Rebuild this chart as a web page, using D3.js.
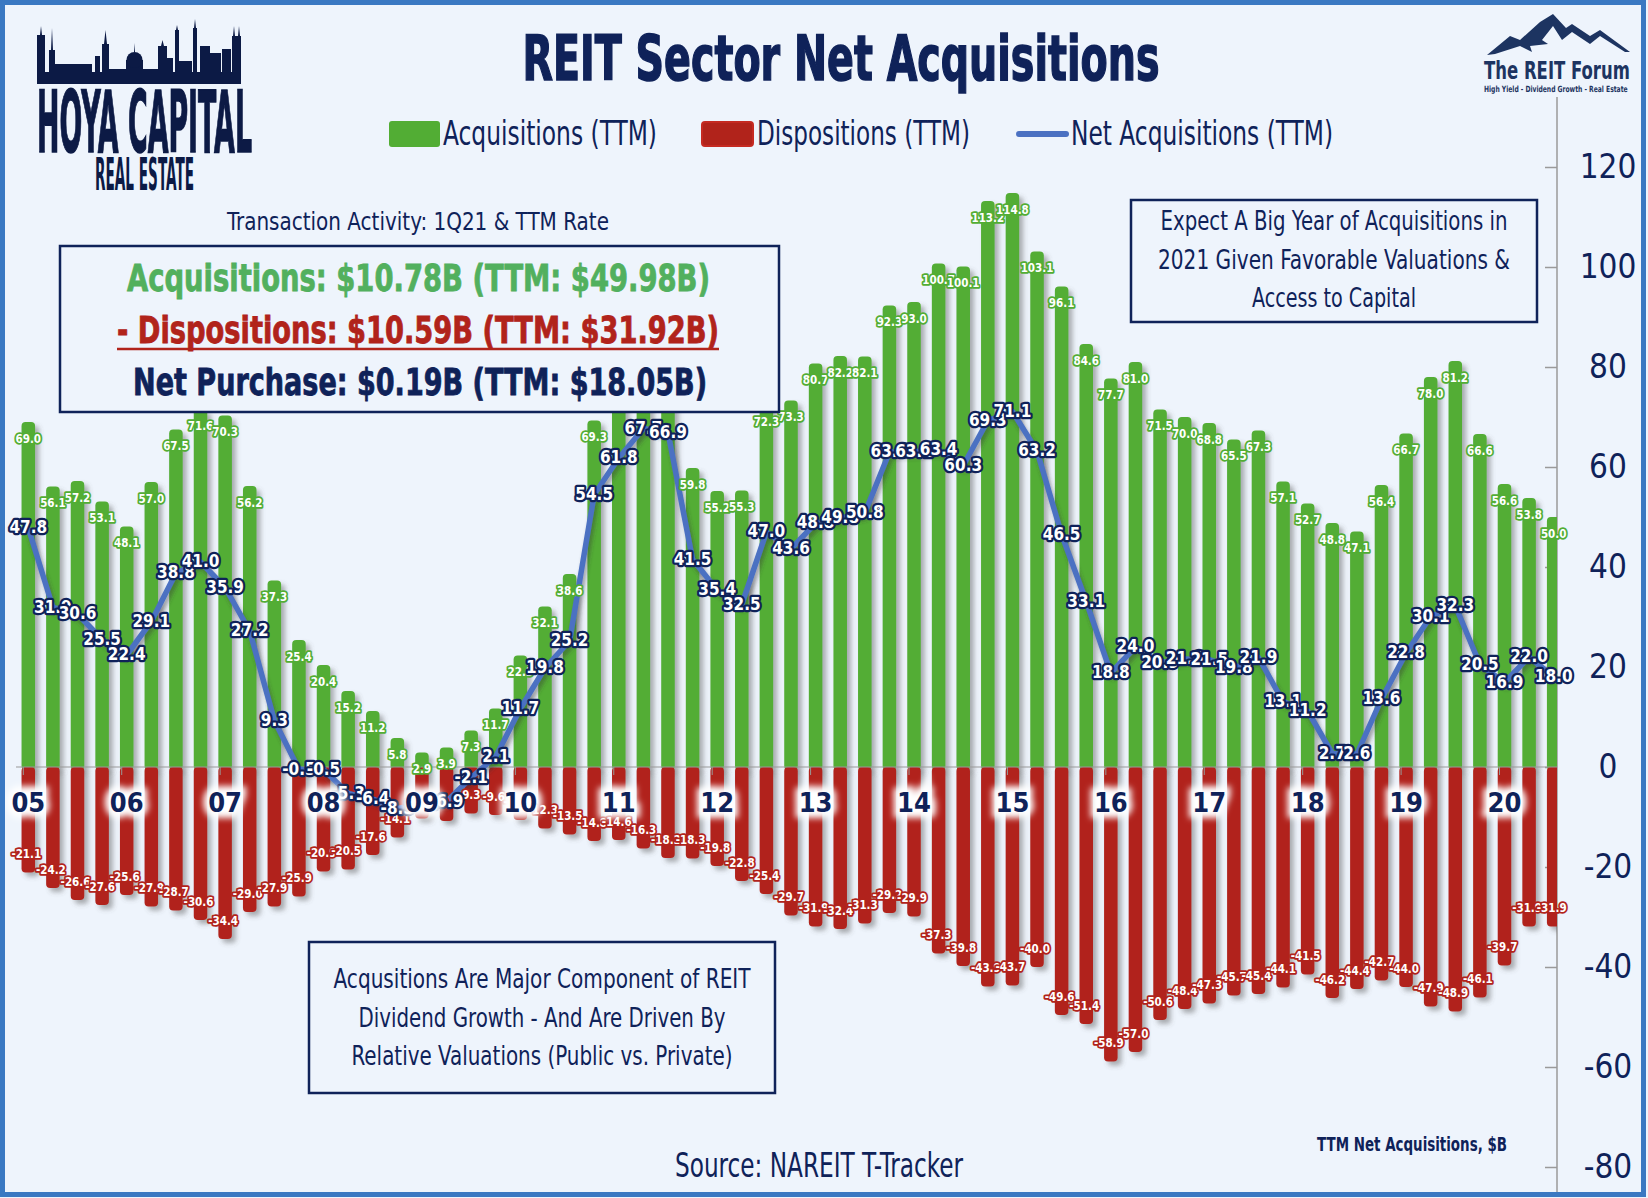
<!DOCTYPE html>
<html>
<head>
<meta charset="utf-8">
<script src="https://cdn.jsdelivr.net/npm/d3@7"></script>
<style>
  html, body { margin: 0; padding: 0; background: #eef4fc; }
  svg { display: block; }
  text { font-family: "Liberation Sans Narrow", "DejaVu Sans Condensed", "Roboto Condensed", Roboto, sans-serif; }
</style>
</head>
<body>
<svg id="chart" width="1648" height="1198"></svg>
<script>
// quarters 3Q05 .. 1Q21 (TTM values, $B)
const periods = [
  "3Q05","4Q05","1Q06","2Q06","3Q06","4Q06","1Q07","2Q07","3Q07","4Q07",
  "1Q08","2Q08","3Q08","4Q08","1Q09","2Q09","3Q09","4Q09","1Q10","2Q10",
  "3Q10","4Q10","1Q11","2Q11","3Q11","4Q11","1Q12","2Q12","3Q12","4Q12",
  "1Q13","2Q13","3Q13","4Q13","1Q14","2Q14","3Q14","4Q14","1Q15","2Q15",
  "3Q15","4Q15","1Q16","2Q16","3Q16","4Q16","1Q17","2Q17","3Q17","4Q17",
  "1Q18","2Q18","3Q18","4Q18","1Q19","2Q19","3Q19","4Q19","1Q20","2Q20",
  "3Q20","4Q20","1Q21"
];
const acquisitions = [
  69.0, 56.1, 57.2, 53.1, 48.1, 57.0, 67.5, 71.6, 70.3, 56.2,
  37.3, 25.4, 20.4, 15.2, 11.2, 5.8, 2.9, 3.9, 7.3, 11.7,
  22.3, 32.1, 38.6, 69.3, 76.4, 84.0, 85.1, 59.8, 55.2, 55.3,
  72.3, 73.3, 80.7, 82.2, 82.1, 92.3, 93.0, 100.7, 100.1, 113.2,
  114.8, 103.1, 96.1, 84.6, 77.7, 81.0, 71.5, 70.0, 68.8, 65.5,
  67.3, 57.1, 52.7, 48.8, 47.1, 56.4, 66.7, 78.0, 81.2, 66.6,
  56.6, 53.8, 50.0
];
const dispositions = [
  -21.1, -24.2, -26.6, -27.6, -25.6, -27.9, -28.7, -30.6, -34.4, -29.0,
  -27.9, -25.9, -20.9, -20.5, -17.6, -14.1, -10.3, -10.8, -9.3, -9.6,
  -10.6, -12.3, -13.5, -14.8, -14.6, -16.3, -18.2, -18.3, -19.8, -22.8,
  -25.4, -29.7, -31.9, -32.4, -31.3, -29.2, -29.9, -37.3, -39.8, -43.9,
  -43.7, -40.0, -49.6, -51.4, -58.9, -57.0, -50.6, -48.4, -47.3, -45.7,
  -45.4, -44.1, -41.5, -46.2, -44.4, -42.7, -44.0, -47.9, -48.9, -46.1,
  -39.7, -31.9, -31.9
];
const netAcquisitions = [
  47.8, 31.9, 30.6, 25.5, 22.4, 29.1, 38.8, 41.0, 35.9, 27.2,
  9.3, -0.5, -0.5, -5.3, -6.4, -8.3, -7.4, -6.9, -2.1, 2.1,
  11.7, 19.8, 25.2, 54.5, 61.8, 67.7, 66.9, 41.5, 35.4, 32.5,
  47.0, 43.6, 48.8, 49.8, 50.8, 63.0, 63.1, 63.4, 60.3, 69.3,
  71.1, 63.2, 46.5, 33.1, 18.8, 24.0, 20.9, 21.6, 21.5, 19.8,
  21.9, 13.1, 11.2, 2.7, 2.6, 13.6, 22.8, 30.1, 32.3, 20.5,
  16.9, 22.0, 18.0
];
const yearTicks = ["3Q05","3Q06","3Q07","3Q08","3Q09","3Q10","3Q11","3Q12",
                   "3Q13","3Q14","3Q15","3Q16","3Q17","3Q18","3Q19","3Q20"];
const yearLabels = ["05","06","07","08","09","10","11","12",
                    "13","14","15","16","17","18","19","20"];
const yTicks = [120, 100, 80, 60, 40, 20, 0, -20, -40, -60, -80];

const navy = "#0f2259", green = "#52ad34", red = "#b1231b", blue = "#4b71c2";

const svg = d3.select("#chart");
const defs = svg.append("defs");

const shadow = defs.append("filter").attr("id", "shadow")
  .attr("x", "-50%").attr("y", "-10%").attr("width", "200%").attr("height", "130%");
shadow.append("feDropShadow").attr("dx", 4).attr("dy", 4).attr("stdDeviation", 2.5)
  .attr("flood-color", "#555").attr("flood-opacity", 0.45);

const lineShadow = defs.append("filter").attr("id", "lineShadow")
  .attr("x", "-10%").attr("y", "-10%").attr("width", "120%").attr("height", "130%");
lineShadow.append("feDropShadow").attr("dx", 2).attr("dy", 4).attr("stdDeviation", 2)
  .attr("flood-color", "#333").attr("flood-opacity", 0.45);

const glow = defs.append("filter").attr("id", "glow")
  .attr("x", "-50%").attr("y", "-50%").attr("width", "200%").attr("height", "200%");
glow.append("feGaussianBlur").attr("stdDeviation", 3);

defs.append("clipPath").attr("id", "plotClip")
  .append("rect").attr("x", 0).attr("y", 0).attr("width", 1557).attr("height", 1198);

// background
svg.append("rect").attr("x", 0).attr("y", 0).attr("width", 1648).attr("height", 1198)
  .attr("fill", "#eef4fc");

// scales
const x = d3.scaleBand().domain(periods).range([16, 1566])
  .paddingInner(0.45).paddingOuter(0.225);
const y = d3.scaleLinear().domain([-80, 120]).range([1167, 167]);
const cx = p => x(p) + x.bandwidth() / 2;

// right axis
const axisX = 1557;
svg.append("line").attr("x1", axisX).attr("x2", axisX).attr("y1", 97).attr("y2", 1192)
  .attr("stroke", "#9a9a9a").attr("stroke-width", 1.5);
const yAxis = svg.append("g").attr("transform", `translate(${axisX},0)`)
  .call(d3.axisRight(y).tickValues(yTicks).tickSize(0).tickPadding(51).tickFormat(d => String(d)));
yAxis.select(".domain").remove();
yAxis.selectAll(".tick line").attr("x1", -12).attr("x2", 0)
  .attr("stroke", "#9a9a9a").attr("stroke-width", 1.5);
yAxis.selectAll(".tick text")
  .attr("text-anchor", "middle").attr("fill", navy)
  .style("font-size", "33px");

// bars
const plot = svg.append("g").attr("clip-path", "url(#plotClip)");
plot.append("g").attr("filter", "url(#shadow)")
  .selectAll("rect").data(periods).join("rect")
  .attr("x", d => x(d)).attr("width", x.bandwidth())
  .attr("y", (d, i) => y(acquisitions[i])).attr("height", (d, i) => y(0) - y(acquisitions[i]) + 3)
  .attr("rx", 4).attr("fill", green);
plot.append("g").attr("filter", "url(#shadow)")
  .selectAll("rect").data(periods).join("rect")
  .attr("x", d => x(d)).attr("width", x.bandwidth())
  .attr("y", y(0)).attr("height", (d, i) => y(dispositions[i]) - y(0))
  .attr("rx", 4).attr("fill", red);

// category baseline
const xAxis = svg.append("g").attr("transform", `translate(0,${y(0)})`)
  .call(d3.axisBottom(x).tickValues(yearTicks).tickSize(8).tickFormat(""));
xAxis.select(".domain").attr("stroke", "#999").attr("d", `M16,0H${axisX}`);
xAxis.selectAll(".tick line").attr("stroke", "#999").attr("transform", "translate(-5,0)");

// net line
const line = d3.line().x((d, i) => cx(periods[i])).y(d => y(d));
svg.append("path").datum(netAcquisitions)
  .attr("d", line).attr("fill", "none")
  .attr("stroke", blue).attr("stroke-width", 5.5).attr("stroke-linejoin", "round")
  .attr("filter", "url(#lineShadow)");

// value labels
function outlined(g, color, size, sw) {
  return g.attr("fill", "#fff").attr("stroke", color).attr("stroke-width", sw)
    .attr("stroke-linejoin", "round").attr("paint-order", "stroke")
    .attr("font-weight", 700).attr("text-anchor", "middle")
    .attr("dominant-baseline", "middle").style("font-size", size + "px");
}
outlined(svg.append("g"), green, 11.5, 3.5)
  .selectAll("text").data(periods).join("text")
  .attr("x", d => cx(d)).attr("y", (d, i) => y(acquisitions[i]) + 17)
  .text((d, i) => acquisitions[i].toFixed(1));
outlined(svg.append("g"), red, 11.5, 3.5)
  .selectAll("text").data(periods).join("text")
  .attr("x", d => cx(d) - 2).attr("y", (d, i) => y(dispositions[i]) - 18)
  .text((d, i) => dispositions[i].toFixed(1));
outlined(svg.append("g"), navy, 17, 4.5)
  .selectAll("text").data(periods).join("text")
  .attr("x", d => cx(d)).attr("y", (d, i) => y(netAcquisitions[i]))
  .text((d, i) => netAcquisitions[i].toFixed(1));

// year labels with white halo
const yl = svg.append("g");
yl.append("g").attr("filter", "url(#glow)")
  .selectAll("text").data(yearTicks).join("text")
  .attr("x", d => cx(d)).attr("y", 812).attr("text-anchor", "middle")
  .attr("font-weight", 700).style("font-size", "27px")
  .attr("fill", "#fff").attr("stroke", "#fff").attr("stroke-width", 12)
  .text((d, i) => yearLabels[i]);
yl.append("g")
  .selectAll("text").data(yearTicks).join("text")
  .attr("x", d => cx(d)).attr("y", 812).attr("text-anchor", "middle")
  .attr("font-weight", 700).style("font-size", "27px").attr("fill", navy)
  .text((d, i) => yearLabels[i]);

// title
svg.append("text").attr("x", 841).attr("y", 80).attr("text-anchor", "middle")
  .attr("font-weight", 700).style("font-size", "62px").attr("fill", navy)
  .attr("stroke", navy).attr("stroke-width", 1.5)
  .attr("textLength", 637).attr("lengthAdjust", "spacingAndGlyphs")
  .text("REIT Sector Net Acquisitions");

// legend
const legend = svg.append("g");
legend.append("rect").attr("x", 389).attr("y", 121).attr("width", 51).attr("height", 26)
  .attr("rx", 3).attr("fill", green);
legend.append("rect").attr("x", 702).attr("y", 122).attr("width", 51).attr("height", 24)
  .attr("rx", 3).attr("fill", red).attr("stroke", "#c52a22").attr("stroke-width", 2);
legend.append("line").attr("x1", 1019).attr("x2", 1066).attr("y1", 134).attr("y2", 134)
  .attr("stroke", blue).attr("stroke-width", 6).attr("stroke-linecap", "round");
[["Acquisitions (TTM)", 443, 214], ["Dispositions (TTM)", 757, 213], ["Net Acquisitions (TTM)", 1071, 262]]
  .forEach(([t, lx, w]) => legend.append("text").attr("x", lx).attr("y", 145)
    .style("font-size", "33px").attr("fill", navy)
    .attr("textLength", w).attr("lengthAdjust", "spacingAndGlyphs").text(t));

// transaction summary
svg.append("text").attr("x", 227).attr("y", 230)
  .style("font-size", "25px").attr("fill", navy)
  .attr("textLength", 382).attr("lengthAdjust", "spacingAndGlyphs")
  .text("Transaction Activity: 1Q21 &  TTM Rate");

function box(x0, y0, w, h) {
  svg.append("rect").attr("x", x0).attr("y", y0).attr("width", w).attr("height", h)
    .attr("fill", "#eef4fc").attr("stroke", navy).attr("stroke-width", 2.5);
}
box(60, 246, 719, 166);
[["Acquisitions: $10.78B (TTM: $49.98B)", 127, 291, 583, "#52b05e"],
 ["- Dispositions: $10.59B (TTM: $31.92B)", 117, 343, 602, red],
 ["Net Purchase: $0.19B (TTM: $18.05B)", 133, 395, 574, navy]]
  .forEach(([t, lx, ly, w, c]) => svg.append("text").attr("x", lx).attr("y", ly)
    .attr("font-weight", 700).style("font-size", "38px").attr("fill", c)
    .attr("stroke", c).attr("stroke-width", 0.8)
    .attr("textLength", w).attr("lengthAdjust", "spacingAndGlyphs").text(t));
svg.append("line").attr("x1", 117).attr("x2", 719).attr("y1", 349).attr("y2", 349)
  .attr("stroke", red).attr("stroke-width", 2.5);

box(1131, 200, 406, 122);
[["Expect A Big Year of Acquisitions in", 230, 347],
 ["2021 Given Favorable Valuations &", 269, 352],
 ["Access to Capital", 307, 164]]
  .forEach(([t, ly, w]) => svg.append("text").attr("x", 1334).attr("y", ly)
    .attr("text-anchor", "middle").style("font-size", "26px").attr("fill", navy)
    .attr("textLength", w).attr("lengthAdjust", "spacingAndGlyphs").text(t));

box(309, 942, 466, 151);
[["Acqusitions Are Major Component of REIT", 988, 417],
 ["Dividend Growth - And Are Driven By", 1027, 367],
 ["Relative Valuations (Public vs. Private)", 1065, 381]]
  .forEach(([t, ly, w]) => svg.append("text").attr("x", 542).attr("y", ly)
    .attr("text-anchor", "middle").style("font-size", "26px").attr("fill", navy)
    .attr("textLength", w).attr("lengthAdjust", "spacingAndGlyphs").text(t));

svg.append("text").attr("x", 819).attr("y", 1177).attr("text-anchor", "middle")
  .style("font-size", "33px").attr("fill", navy)
  .attr("textLength", 288).attr("lengthAdjust", "spacingAndGlyphs")
  .text("Source: NAREIT T-Tracker");
svg.append("text").attr("x", 1507).attr("y", 1151).attr("text-anchor", "end")
  .attr("font-weight", 700).style("font-size", "19px").attr("fill", navy)
  .attr("textLength", 190).attr("lengthAdjust", "spacingAndGlyphs")
  .text("TTM Net Acquisitions, $B");

// Hoya Capital logo (skyline silhouette)
const hoya = svg.append("g").attr("fill", "#0c1a45");
const towers = [[37,8,35],[49,6,50],[55,37,64],[95,5,56],[102,7,44],[109,17,69],[126,17,60],
  [143,15,69],[158,9,46],[167,6,58],[175,4,30],[179,13,61],[193,4,28],[200,10,46],
  [210,11,53],[222,9,49],[232,9,36]];
towers.forEach(([tx, tw, ty]) => hoya.append("rect")
  .attr("x", tx).attr("y", ty).attr("width", tw).attr("height", 84 - ty));
hoya.append("rect").attr("x", 37).attr("y", 72).attr("width", 204).attr("height", 12);
hoya.append("ellipse").attr("cx", 134.5).attr("cy", 60).attr("rx", 8).attr("ry", 8);
hoya.append("path").attr("d",
  "M40,35 L41,26 L42,35 Z M51,50 L52,28 L53,50 Z M104,44 L105.5,30 L107,44 Z " +
  "M134,52 L134.5,43 L135,52 Z M176,30 L177,25 L178,30 Z M194,28 L195,19 L196,28 Z " +
  "M233,36 L234,26 L235,36 Z M238,36 L239,26 L240,36 Z M161,46 L162.5,40 L164,46 Z");
hoya.append("text").attr("x", 37).attr("y", 152).attr("font-weight", 700)
  .style("font-size", "86px").attr("stroke", "#0c1a45").attr("stroke-width", 1.5)
  .attr("textLength", 215).attr("lengthAdjust", "spacingAndGlyphs")
  .text("HOYA CAPITAL");
hoya.append("text").attr("x", 95).attr("y", 190).attr("font-weight", 700)
  .style("font-size", "44px").attr("textLength", 99).attr("lengthAdjust", "spacingAndGlyphs")
  .text("REAL ESTATE");

// The REIT Forum logo
const forum = svg.append("g").attr("fill", "#1d3461");
forum.append("path").attr("d",
  "M1487,55 L1510,36 L1520,40 L1540,22 L1553,14 L1566,28 L1572,24 L1590,36 L1600,30 L1630,52 L1625,52 L1600,36 L1590,44 L1572,32 L1562,40 L1553,26 L1542,40 L1548,44 L1530,46 L1532,52 L1520,46 L1495,54 Z");
// squeeze the logo texts horizontally to their target widths
[["The REIT Forum", 79, 24, 146], ["High Yield - Dividend Growth - Real Estate", 92, 8.5, 144]]
  .forEach(([t, ly, fs, w]) => {
    const tt = forum.append("text").attr("font-weight", 700)
      .style("font-size", fs + "px").text(t);
    const k = w / tt.node().getComputedTextLength();
    tt.attr("transform", `translate(1484,${ly}) scale(${k},1)`);
  });

// frame
svg.append("rect").attr("x", 2.5).attr("y", 2.5).attr("width", 1641).attr("height", 1192)
  .attr("fill", "none").attr("stroke", "#3a78c2").attr("stroke-width", 5);
</script>
</body>
</html>
